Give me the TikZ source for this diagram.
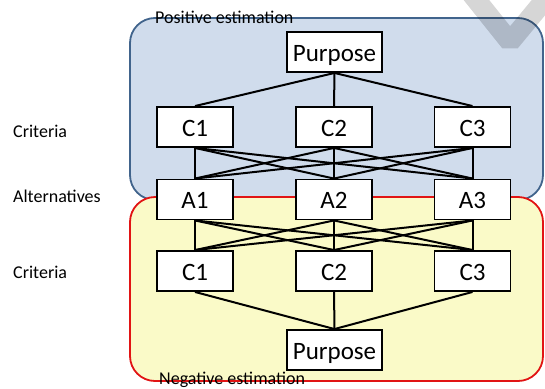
\documentclass[tikz,border=0pt]{standalone}
\usepackage{fontspec}
\setmainfont{Carlito}
\definecolor{posfill}{RGB}{208,220,236}
\definecolor{posline}{RGB}{65,100,140}
\definecolor{negfill}{RGB}{250,250,200}
\definecolor{negline}{RGB}{225,20,20}
\tikzset{
  box/.style={draw=black, line width=1.9pt, fill=white, inner sep=0pt, text height=18pt, text depth=0pt,
              font=\fontsize{25}{30}\selectfont, minimum height=40pt},
  cbox/.style={box, minimum width=76pt},
  pbox/.style={box, minimum width=95pt},
  link/.style={draw=black, line width=2pt},
  side/.style={anchor=base west, font=\fontsize{18}{22}\selectfont, inner sep=0pt},
  region/.style={rounded corners=25pt, line width=1.8pt}
}
\begin{document}
\begin{tikzpicture}[x=1pt,y=-1pt]
\useasboundingbox (0,0) rectangle (545,388);
% regions
\draw[region, fill=posfill, draw=posline] (130,18) rectangle (543,200);
\draw[region, fill=negfill, draw=negline] (130,197) rectangle (543,381);
% watermark
\draw[black, opacity=0.16, line width=20pt, line join=bevel] (470,-8) -- (510,42) -- (548,-4);
% region labels
\node[side] (pos) at (155,23) {Positive estimation};
\node[side] (neg) at (159,384.5) {Negative estimation};
% side labels
\node[side] (lc1) at (13,137) {Criteria};
\node[side] (la) at (13,202) {Alternatives};
\node[side] (lc2) at (13,278) {Criteria};
% nodes
\node[pbox] (P1) at (334.5,52) {Purpose};
\node[cbox] (C1) at (195,127) {C1};
\node[cbox] (C2) at (334,127) {C2};
\node[cbox] (C3) at (472.5,127) {C3};
\node[cbox] (A1) at (195,199.5) {A1};
\node[cbox] (A2) at (334,199.5) {A2};
\node[cbox] (A3) at (472.5,199.5) {A3};
\node[cbox] (D1) at (195,271) {C1};
\node[cbox] (D2) at (334,271) {C2};
\node[cbox] (D3) at (472.5,271) {C3};
\node[pbox] (P2) at (334.5,350) {Purpose};
% connectors
\foreach \c in {C1,C2,C3} {\draw[link] (P1.south) -- (\c.north);}
\foreach \c in {C1,C2,C3} {\foreach \a in {A1,A2,A3} {\draw[link] (\c.south) -- (\a.north);}}
\foreach \a in {A1,A2,A3} {\foreach \d in {D1,D2,D3} {\draw[link] (\a.south) -- (\d.north);}}
\foreach \d in {D1,D2,D3} {\draw[link] (\d.south) -- (P2.north);}
\end{tikzpicture}
\end{document}
